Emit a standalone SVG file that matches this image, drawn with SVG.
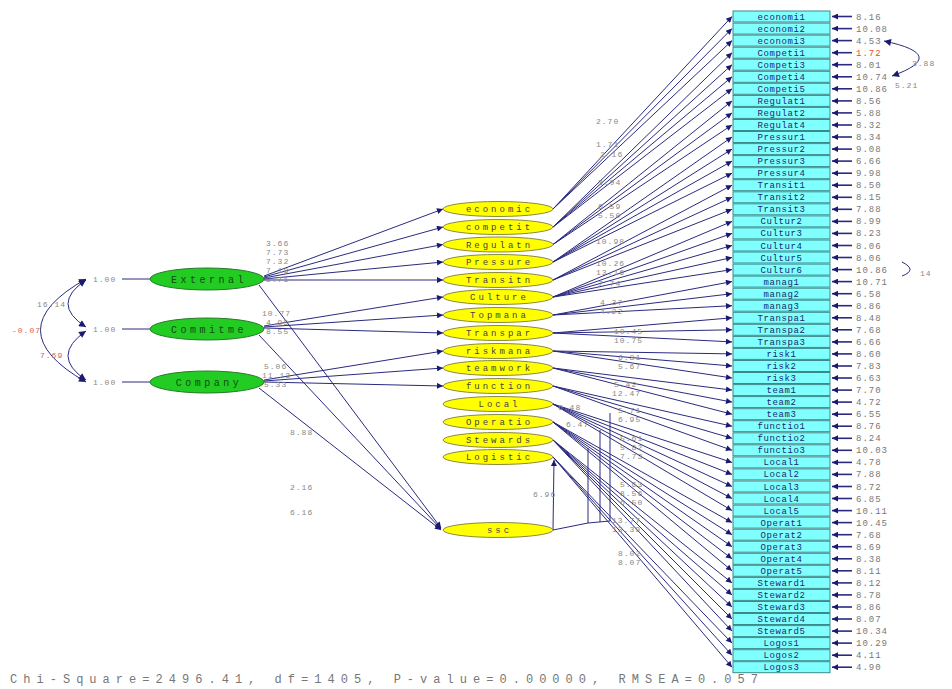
<svg xmlns="http://www.w3.org/2000/svg" width="952" height="689" viewBox="0 0 952 689">
<style>
.bx rect{fill:#80ffff;stroke:#3a8a8a;stroke-width:1}
.bx text{font-family:"Liberation Mono",monospace;font-size:9px;fill:#1a2a6a;text-anchor:middle;letter-spacing:0.6px}
.bx line{stroke:#2a2a80;stroke-width:1.6;marker-end:url(#ah)}
.bx .v{text-anchor:start;fill:#777;letter-spacing:1px}
.bx .r{fill:#e05030}
.ye ellipse{fill:#ffff00;stroke:#8a8a40;stroke-width:1}
.gr ellipse{fill:#22cc22;stroke:#2a7a2a;stroke-width:1}
.ye text{font-family:"Liberation Mono",monospace;font-size:9px;fill:#444;text-anchor:middle;letter-spacing:3px}
.gr text{font-family:"Liberation Mono",monospace;font-size:10px;fill:#134a13;text-anchor:middle;letter-spacing:3.5px}
.cn line,.cn path,.cn polyline{stroke:#2a2a80;stroke-width:1;fill:none}
.cn .a{marker-end:url(#ah)}
.lb{font-family:"Liberation Mono",monospace;font-size:8px;fill:#888;letter-spacing:1px}
.rd{fill:#e06040}
.thin{stroke:#bbb;stroke-width:1}
</style>
<defs>
<marker id="ah" viewBox="0 0 10 10" refX="10" refY="5" markerWidth="8" markerHeight="6" markerUnits="userSpaceOnUse" orient="auto"><path d="M0,0 L10,5 L0,10 z" fill="#1a1a70"/></marker>
<marker id="as" viewBox="0 0 10 10" refX="10" refY="5" markerWidth="9" markerHeight="7" markerUnits="userSpaceOnUse" orient="auto-start-reverse"><path d="M0,0 L10,5 L0,10 z" fill="#1a1a70"/></marker>
</defs>
<rect width="952" height="689" fill="#fff"/>

<g id="connectors" class="cn">
<line class="a" x1="264" y1="276" x2="443" y2="209"/>
<line class="a" x1="264" y1="277" x2="443" y2="227"/>
<line class="a" x1="264" y1="278" x2="443" y2="244.5"/>
<line class="a" x1="264" y1="279" x2="443" y2="262"/>
<line class="a" x1="264" y1="280" x2="443" y2="280"/>
<line class="a" x1="259" y1="285" x2="441" y2="528"/>
<line class="a" x1="264" y1="326" x2="443" y2="297"/>
<line class="a" x1="264" y1="327" x2="443" y2="315"/>
<line class="a" x1="264" y1="328" x2="443" y2="333"/>
<line class="a" x1="259" y1="335" x2="441" y2="529"/>
<line class="a" x1="264" y1="380" x2="443" y2="351"/>
<line class="a" x1="264" y1="381" x2="443" y2="368"/>
<line class="a" x1="264" y1="382" x2="443" y2="386"/>
<line class="a" x1="259" y1="388" x2="441" y2="530"/>
<line class="thin" x1="122" y1="279" x2="150" y2="279"/>
<line class="thin" x1="122" y1="329" x2="150" y2="329"/>
<line class="thin" x1="122" y1="382" x2="150" y2="382"/>
<path d="M86,280 Q50,304 86,327" marker-start="url(#as)" marker-end="url(#as)"/>
<path d="M86,331 Q50,356 86,380" marker-start="url(#as)" marker-end="url(#as)"/>
<path d="M86,279 Q-5,330 86,382" marker-start="url(#as)" marker-end="url(#as)"/>
<polyline points="553,530 588,523 610,521"/>
<line class="a" x1="553" y1="530" x2="554" y2="460"/>
<line x1="588" y1="523" x2="588" y2="448"/>
<line x1="600" y1="522" x2="600" y2="430"/>
<line x1="610" y1="521" x2="610" y2="413"/>
<line class="a" x1="553" y1="209" x2="732" y2="16.5"/>
<line class="a" x1="553" y1="209" x2="732" y2="28.6"/>
<line class="a" x1="553" y1="209" x2="732" y2="40.6"/>
<line class="a" x1="553" y1="227" x2="732" y2="52.7"/>
<line class="a" x1="553" y1="227" x2="732" y2="64.7"/>
<line class="a" x1="553" y1="227" x2="732" y2="76.8"/>
<line class="a" x1="553" y1="227" x2="732" y2="88.8"/>
<line class="a" x1="553" y1="244.5" x2="732" y2="100.9"/>
<line class="a" x1="553" y1="244.5" x2="732" y2="112.9"/>
<line class="a" x1="553" y1="244.5" x2="732" y2="125"/>
<line class="a" x1="553" y1="262" x2="732" y2="137"/>
<line class="a" x1="553" y1="262" x2="732" y2="149.1"/>
<line class="a" x1="553" y1="262" x2="732" y2="161.1"/>
<line class="a" x1="553" y1="262" x2="732" y2="173.2"/>
<line class="a" x1="553" y1="280" x2="732" y2="185.2"/>
<line class="a" x1="553" y1="280" x2="732" y2="197.3"/>
<line class="a" x1="553" y1="280" x2="732" y2="209.3"/>
<line class="a" x1="553" y1="297" x2="732" y2="221.4"/>
<line class="a" x1="553" y1="297" x2="732" y2="233.4"/>
<line class="a" x1="553" y1="297" x2="732" y2="245.5"/>
<line class="a" x1="553" y1="297" x2="732" y2="257.5"/>
<line class="a" x1="553" y1="297" x2="732" y2="269.6"/>
<line class="a" x1="553" y1="315" x2="732" y2="281.6"/>
<line class="a" x1="553" y1="315" x2="732" y2="293.7"/>
<line class="a" x1="553" y1="315" x2="732" y2="305.7"/>
<line class="a" x1="553" y1="333" x2="732" y2="317.8"/>
<line class="a" x1="553" y1="333" x2="732" y2="329.8"/>
<line class="a" x1="553" y1="333" x2="732" y2="341.9"/>
<line class="a" x1="553" y1="351" x2="732" y2="353.9"/>
<line class="a" x1="553" y1="351" x2="732" y2="366"/>
<line class="a" x1="553" y1="351" x2="732" y2="378"/>
<line class="a" x1="553" y1="368" x2="732" y2="390.1"/>
<line class="a" x1="553" y1="368" x2="732" y2="402.1"/>
<line class="a" x1="553" y1="368" x2="732" y2="414.2"/>
<line class="a" x1="553" y1="386" x2="732" y2="426.2"/>
<line class="a" x1="553" y1="386" x2="732" y2="438.3"/>
<line class="a" x1="553" y1="386" x2="732" y2="450.3"/>
<line class="a" x1="553" y1="404" x2="732" y2="462.4"/>
<line class="a" x1="553" y1="404" x2="732" y2="474.4"/>
<line class="a" x1="553" y1="404" x2="732" y2="486.5"/>
<line class="a" x1="553" y1="404" x2="732" y2="498.5"/>
<line class="a" x1="553" y1="404" x2="732" y2="510.6"/>
<line class="a" x1="553" y1="422" x2="732" y2="522.6"/>
<line class="a" x1="553" y1="422" x2="732" y2="534.7"/>
<line class="a" x1="553" y1="422" x2="732" y2="546.7"/>
<line class="a" x1="553" y1="422" x2="732" y2="558.8"/>
<line class="a" x1="553" y1="422" x2="732" y2="570.8"/>
<line class="a" x1="553" y1="440" x2="732" y2="582.9"/>
<line class="a" x1="553" y1="440" x2="732" y2="594.9"/>
<line class="a" x1="553" y1="440" x2="732" y2="607"/>
<line class="a" x1="553" y1="440" x2="732" y2="619"/>
<line class="a" x1="553" y1="440" x2="732" y2="631.1"/>
<line class="a" x1="553" y1="457" x2="732" y2="643.1"/>
<line class="a" x1="553" y1="457" x2="732" y2="655.2"/>
<line class="a" x1="553" y1="457" x2="732" y2="667.2"/>
<path d="M884,41 Q950,55 892,76" marker-start="url(#as)" marker-end="url(#as)"/>
<path d="M902,262 Q918,270 902,276"/>
</g>

<g id="path-labels" class="lb">
<text x="266" y="246">3.66</text>
<text x="266" y="255">7.73</text>
<text x="266" y="264">7.32</text>
<text x="266" y="273">7.18</text>
<text x="266" y="282">8.71</text>
<text x="262" y="316">10.77</text>
<text x="266" y="325">4.95</text>
<text x="266" y="334">8.55</text>
<text x="264" y="369">5.06</text>
<text x="262" y="378">11.13</text>
<text x="264" y="387">5.33</text>
<text x="290" y="435">8.88</text>
<text x="290" y="490">2.16</text>
<text x="290" y="515">6.16</text>
<text x="37" y="307">16.14</text>
<text class="rd" x="12" y="333">-0.07</text>
<text class="rd" x="40" y="358">7.69</text>
<text x="93" y="282">1.00</text>
<text x="93" y="332">1.00</text>
<text x="93" y="385">1.00</text>
<text x="596" y="124">2.70</text>
<text x="596" y="147">1.71</text>
<text x="600" y="157">2.16</text>
<text x="598" y="185">3.04</text>
<text x="598" y="209">6.59</text>
<text x="598" y="218">5.50</text>
<text x="596" y="244">10.98</text>
<text x="596" y="266">10.26</text>
<text x="596" y="275">13.16</text>
<text x="598" y="286">7.74</text>
<text x="600" y="305">4.37</text>
<text x="600" y="314">4.22</text>
<text x="614" y="334">10.45</text>
<text x="614" y="343">10.75</text>
<text x="618" y="360">6.81</text>
<text x="618" y="369">5.67</text>
<text x="614" y="387">5.42</text>
<text x="612" y="396">12.47</text>
<text x="618" y="413">5.71</text>
<text x="618" y="422">6.95</text>
<text x="558" y="410">6.48</text>
<text x="566" y="427">6.47</text>
<text x="620" y="441">5.61</text>
<text x="620" y="450">5.82</text>
<text x="620" y="459">7.73</text>
<text x="620" y="487">5.63</text>
<text x="620" y="496">8.56</text>
<text x="620" y="505">6.50</text>
<text x="612" y="523">13.77</text>
<text x="612" y="532">13.39</text>
<text x="618" y="556">8.02</text>
<text x="618" y="565">8.07</text>
<text x="533" y="497">6.96</text>
<text x="912" y="66">3.88</text>
<text x="895" y="88">5.21</text>
<text x="920" y="276">14</text>
</g>

<g id="External" class="gr"><ellipse cx="207" cy="279" rx="57" ry="11"/><text x="209" y="282.5">External</text></g>
<g id="Commitme" class="gr"><ellipse cx="207" cy="329" rx="57" ry="11"/><text x="209" y="332.5">Commitme</text></g>
<g id="Company" class="gr"><ellipse cx="207" cy="382" rx="57" ry="11"/><text x="209" y="385.5">Company</text></g>

<g id="economic" class="ye"><ellipse cx="498" cy="209" rx="55" ry="7.5"/><text x="499.5" y="212">economic</text></g>
<g id="competit" class="ye"><ellipse cx="498" cy="227" rx="55" ry="7.5"/><text x="499.5" y="230">competit</text></g>
<g id="Regulatn" class="ye"><ellipse cx="498" cy="244.5" rx="55" ry="7.5"/><text x="499.5" y="247.5">Regulatn</text></g>
<g id="Pressure" class="ye"><ellipse cx="498" cy="262" rx="55" ry="7.5"/><text x="499.5" y="265">Pressure</text></g>
<g id="Transitn" class="ye"><ellipse cx="498" cy="280" rx="55" ry="7.5"/><text x="499.5" y="283">Transitn</text></g>
<g id="Culture" class="ye"><ellipse cx="498" cy="297" rx="55" ry="7.5"/><text x="499.5" y="300">Culture</text></g>
<g id="Topmana" class="ye"><ellipse cx="498" cy="315" rx="55" ry="7.5"/><text x="499.5" y="318">Topmana</text></g>
<g id="Transpar" class="ye"><ellipse cx="498" cy="333" rx="55" ry="7.5"/><text x="499.5" y="336">Transpar</text></g>
<g id="riskmana" class="ye"><ellipse cx="498" cy="351" rx="55" ry="7.5"/><text x="499.5" y="354">riskmana</text></g>
<g id="teamwork" class="ye"><ellipse cx="498" cy="368" rx="55" ry="7.5"/><text x="499.5" y="371">teamwork</text></g>
<g id="function" class="ye"><ellipse cx="498" cy="386" rx="55" ry="7.5"/><text x="499.5" y="389">function</text></g>
<g id="Local" class="ye"><ellipse cx="498" cy="404" rx="55" ry="7.5"/><text x="499.5" y="407">Local</text></g>
<g id="Operatio" class="ye"><ellipse cx="498" cy="422" rx="55" ry="7.5"/><text x="499.5" y="425">Operatio</text></g>
<g id="Stewards" class="ye"><ellipse cx="498" cy="440" rx="55" ry="7.5"/><text x="499.5" y="443">Stewards</text></g>
<g id="Logistic" class="ye"><ellipse cx="498" cy="457" rx="55" ry="7.5"/><text x="499.5" y="460">Logistic</text></g>
<g id="ssc" class="ye"><ellipse cx="498" cy="530" rx="55" ry="7.5"/><text x="499.5" y="533">ssc</text></g>

<g class="bx">
<g id="economi1" transform="translate(0,16.5)"><rect x="733" y="-5.5" width="97" height="11"/><text x="781.5" y="3">economi1</text><line x1="852" y1="0" x2="832" y2="0"/><text class="v" x="856" y="3">8.16</text></g>
<g id="economi2" transform="translate(0,28.6)"><rect x="733" y="-5.5" width="97" height="11"/><text x="781.5" y="3">economi2</text><line x1="852" y1="0" x2="832" y2="0"/><text class="v" x="856" y="3">10.08</text></g>
<g id="economi3" transform="translate(0,40.6)"><rect x="733" y="-5.5" width="97" height="11"/><text x="781.5" y="3">economi3</text><line x1="852" y1="0" x2="832" y2="0"/><text class="v" x="856" y="3">4.53</text></g>
<g id="Competi1" transform="translate(0,52.7)"><rect x="733" y="-5.5" width="97" height="11"/><text x="781.5" y="3">Competi1</text><line x1="852" y1="0" x2="832" y2="0"/><text class="v r" x="856" y="3">1.72</text></g>
<g id="Competi3" transform="translate(0,64.7)"><rect x="733" y="-5.5" width="97" height="11"/><text x="781.5" y="3">Competi3</text><line x1="852" y1="0" x2="832" y2="0"/><text class="v" x="856" y="3">8.01</text></g>
<g id="Competi4" transform="translate(0,76.8)"><rect x="733" y="-5.5" width="97" height="11"/><text x="781.5" y="3">Competi4</text><line x1="852" y1="0" x2="832" y2="0"/><text class="v" x="856" y="3">10.74</text></g>
<g id="Competi5" transform="translate(0,88.8)"><rect x="733" y="-5.5" width="97" height="11"/><text x="781.5" y="3">Competi5</text><line x1="852" y1="0" x2="832" y2="0"/><text class="v" x="856" y="3">10.86</text></g>
<g id="Regulat1" transform="translate(0,100.9)"><rect x="733" y="-5.5" width="97" height="11"/><text x="781.5" y="3">Regulat1</text><line x1="852" y1="0" x2="832" y2="0"/><text class="v" x="856" y="3">8.56</text></g>
<g id="Regulat2" transform="translate(0,112.9)"><rect x="733" y="-5.5" width="97" height="11"/><text x="781.5" y="3">Regulat2</text><line x1="852" y1="0" x2="832" y2="0"/><text class="v" x="856" y="3">5.88</text></g>
<g id="Regulat4" transform="translate(0,125)"><rect x="733" y="-5.5" width="97" height="11"/><text x="781.5" y="3">Regulat4</text><line x1="852" y1="0" x2="832" y2="0"/><text class="v" x="856" y="3">8.32</text></g>
<g id="Pressur1" transform="translate(0,137)"><rect x="733" y="-5.5" width="97" height="11"/><text x="781.5" y="3">Pressur1</text><line x1="852" y1="0" x2="832" y2="0"/><text class="v" x="856" y="3">8.34</text></g>
<g id="Pressur2" transform="translate(0,149.1)"><rect x="733" y="-5.5" width="97" height="11"/><text x="781.5" y="3">Pressur2</text><line x1="852" y1="0" x2="832" y2="0"/><text class="v" x="856" y="3">9.08</text></g>
<g id="Pressur3" transform="translate(0,161.1)"><rect x="733" y="-5.5" width="97" height="11"/><text x="781.5" y="3">Pressur3</text><line x1="852" y1="0" x2="832" y2="0"/><text class="v" x="856" y="3">6.66</text></g>
<g id="Pressur4" transform="translate(0,173.2)"><rect x="733" y="-5.5" width="97" height="11"/><text x="781.5" y="3">Pressur4</text><line x1="852" y1="0" x2="832" y2="0"/><text class="v" x="856" y="3">9.98</text></g>
<g id="Transit1" transform="translate(0,185.2)"><rect x="733" y="-5.5" width="97" height="11"/><text x="781.5" y="3">Transit1</text><line x1="852" y1="0" x2="832" y2="0"/><text class="v" x="856" y="3">8.50</text></g>
<g id="Transit2" transform="translate(0,197.3)"><rect x="733" y="-5.5" width="97" height="11"/><text x="781.5" y="3">Transit2</text><line x1="852" y1="0" x2="832" y2="0"/><text class="v" x="856" y="3">8.15</text></g>
<g id="Transit3" transform="translate(0,209.3)"><rect x="733" y="-5.5" width="97" height="11"/><text x="781.5" y="3">Transit3</text><line x1="852" y1="0" x2="832" y2="0"/><text class="v" x="856" y="3">7.88</text></g>
<g id="Cultur2" transform="translate(0,221.4)"><rect x="733" y="-5.5" width="97" height="11"/><text x="781.5" y="3">Cultur2</text><line x1="852" y1="0" x2="832" y2="0"/><text class="v" x="856" y="3">8.99</text></g>
<g id="Cultur3" transform="translate(0,233.4)"><rect x="733" y="-5.5" width="97" height="11"/><text x="781.5" y="3">Cultur3</text><line x1="852" y1="0" x2="832" y2="0"/><text class="v" x="856" y="3">8.23</text></g>
<g id="Cultur4" transform="translate(0,245.5)"><rect x="733" y="-5.5" width="97" height="11"/><text x="781.5" y="3">Cultur4</text><line x1="852" y1="0" x2="832" y2="0"/><text class="v" x="856" y="3">8.06</text></g>
<g id="Cultur5" transform="translate(0,257.5)"><rect x="733" y="-5.5" width="97" height="11"/><text x="781.5" y="3">Cultur5</text><line x1="852" y1="0" x2="832" y2="0"/><text class="v" x="856" y="3">8.06</text></g>
<g id="Cultur6" transform="translate(0,269.6)"><rect x="733" y="-5.5" width="97" height="11"/><text x="781.5" y="3">Cultur6</text><line x1="852" y1="0" x2="832" y2="0"/><text class="v" x="856" y="3">10.86</text></g>
<g id="manag1" transform="translate(0,281.6)"><rect x="733" y="-5.5" width="97" height="11"/><text x="781.5" y="3">manag1</text><line x1="852" y1="0" x2="832" y2="0"/><text class="v" x="856" y="3">10.71</text></g>
<g id="manag2" transform="translate(0,293.7)"><rect x="733" y="-5.5" width="97" height="11"/><text x="781.5" y="3">manag2</text><line x1="852" y1="0" x2="832" y2="0"/><text class="v" x="856" y="3">6.58</text></g>
<g id="manag3" transform="translate(0,305.7)"><rect x="733" y="-5.5" width="97" height="11"/><text x="781.5" y="3">manag3</text><line x1="852" y1="0" x2="832" y2="0"/><text class="v" x="856" y="3">8.86</text></g>
<g id="Transpa1" transform="translate(0,317.8)"><rect x="733" y="-5.5" width="97" height="11"/><text x="781.5" y="3">Transpa1</text><line x1="852" y1="0" x2="832" y2="0"/><text class="v" x="856" y="3">8.48</text></g>
<g id="Transpa2" transform="translate(0,329.8)"><rect x="733" y="-5.5" width="97" height="11"/><text x="781.5" y="3">Transpa2</text><line x1="852" y1="0" x2="832" y2="0"/><text class="v" x="856" y="3">7.68</text></g>
<g id="Transpa3" transform="translate(0,341.9)"><rect x="733" y="-5.5" width="97" height="11"/><text x="781.5" y="3">Transpa3</text><line x1="852" y1="0" x2="832" y2="0"/><text class="v" x="856" y="3">6.66</text></g>
<g id="risk1" transform="translate(0,353.9)"><rect x="733" y="-5.5" width="97" height="11"/><text x="781.5" y="3">risk1</text><line x1="852" y1="0" x2="832" y2="0"/><text class="v" x="856" y="3">8.60</text></g>
<g id="risk2" transform="translate(0,366)"><rect x="733" y="-5.5" width="97" height="11"/><text x="781.5" y="3">risk2</text><line x1="852" y1="0" x2="832" y2="0"/><text class="v" x="856" y="3">7.83</text></g>
<g id="risk3" transform="translate(0,378)"><rect x="733" y="-5.5" width="97" height="11"/><text x="781.5" y="3">risk3</text><line x1="852" y1="0" x2="832" y2="0"/><text class="v" x="856" y="3">6.63</text></g>
<g id="team1" transform="translate(0,390.1)"><rect x="733" y="-5.5" width="97" height="11"/><text x="781.5" y="3">team1</text><line x1="852" y1="0" x2="832" y2="0"/><text class="v" x="856" y="3">7.70</text></g>
<g id="team2" transform="translate(0,402.1)"><rect x="733" y="-5.5" width="97" height="11"/><text x="781.5" y="3">team2</text><line x1="852" y1="0" x2="832" y2="0"/><text class="v" x="856" y="3">4.72</text></g>
<g id="team3" transform="translate(0,414.2)"><rect x="733" y="-5.5" width="97" height="11"/><text x="781.5" y="3">team3</text><line x1="852" y1="0" x2="832" y2="0"/><text class="v" x="856" y="3">6.55</text></g>
<g id="functio1" transform="translate(0,426.2)"><rect x="733" y="-5.5" width="97" height="11"/><text x="781.5" y="3">functio1</text><line x1="852" y1="0" x2="832" y2="0"/><text class="v" x="856" y="3">8.76</text></g>
<g id="functio2" transform="translate(0,438.3)"><rect x="733" y="-5.5" width="97" height="11"/><text x="781.5" y="3">functio2</text><line x1="852" y1="0" x2="832" y2="0"/><text class="v" x="856" y="3">8.24</text></g>
<g id="functio3" transform="translate(0,450.3)"><rect x="733" y="-5.5" width="97" height="11"/><text x="781.5" y="3">functio3</text><line x1="852" y1="0" x2="832" y2="0"/><text class="v" x="856" y="3">10.03</text></g>
<g id="Local1" transform="translate(0,462.4)"><rect x="733" y="-5.5" width="97" height="11"/><text x="781.5" y="3">Local1</text><line x1="852" y1="0" x2="832" y2="0"/><text class="v" x="856" y="3">4.78</text></g>
<g id="Local2" transform="translate(0,474.4)"><rect x="733" y="-5.5" width="97" height="11"/><text x="781.5" y="3">Local2</text><line x1="852" y1="0" x2="832" y2="0"/><text class="v" x="856" y="3">7.88</text></g>
<g id="Local3" transform="translate(0,486.5)"><rect x="733" y="-5.5" width="97" height="11"/><text x="781.5" y="3">Local3</text><line x1="852" y1="0" x2="832" y2="0"/><text class="v" x="856" y="3">8.72</text></g>
<g id="Local4" transform="translate(0,498.5)"><rect x="733" y="-5.5" width="97" height="11"/><text x="781.5" y="3">Local4</text><line x1="852" y1="0" x2="832" y2="0"/><text class="v" x="856" y="3">6.85</text></g>
<g id="Local5" transform="translate(0,510.6)"><rect x="733" y="-5.5" width="97" height="11"/><text x="781.5" y="3">Local5</text><line x1="852" y1="0" x2="832" y2="0"/><text class="v" x="856" y="3">10.11</text></g>
<g id="Operat1" transform="translate(0,522.6)"><rect x="733" y="-5.5" width="97" height="11"/><text x="781.5" y="3">Operat1</text><line x1="852" y1="0" x2="832" y2="0"/><text class="v" x="856" y="3">10.45</text></g>
<g id="Operat2" transform="translate(0,534.7)"><rect x="733" y="-5.5" width="97" height="11"/><text x="781.5" y="3">Operat2</text><line x1="852" y1="0" x2="832" y2="0"/><text class="v" x="856" y="3">7.68</text></g>
<g id="Operat3" transform="translate(0,546.7)"><rect x="733" y="-5.5" width="97" height="11"/><text x="781.5" y="3">Operat3</text><line x1="852" y1="0" x2="832" y2="0"/><text class="v" x="856" y="3">8.69</text></g>
<g id="Operat4" transform="translate(0,558.8)"><rect x="733" y="-5.5" width="97" height="11"/><text x="781.5" y="3">Operat4</text><line x1="852" y1="0" x2="832" y2="0"/><text class="v" x="856" y="3">8.38</text></g>
<g id="Operat5" transform="translate(0,570.8)"><rect x="733" y="-5.5" width="97" height="11"/><text x="781.5" y="3">Operat5</text><line x1="852" y1="0" x2="832" y2="0"/><text class="v" x="856" y="3">8.11</text></g>
<g id="Steward1" transform="translate(0,582.9)"><rect x="733" y="-5.5" width="97" height="11"/><text x="781.5" y="3">Steward1</text><line x1="852" y1="0" x2="832" y2="0"/><text class="v" x="856" y="3">8.12</text></g>
<g id="Steward2" transform="translate(0,594.9)"><rect x="733" y="-5.5" width="97" height="11"/><text x="781.5" y="3">Steward2</text><line x1="852" y1="0" x2="832" y2="0"/><text class="v" x="856" y="3">8.78</text></g>
<g id="Steward3" transform="translate(0,607)"><rect x="733" y="-5.5" width="97" height="11"/><text x="781.5" y="3">Steward3</text><line x1="852" y1="0" x2="832" y2="0"/><text class="v" x="856" y="3">8.86</text></g>
<g id="Steward4" transform="translate(0,619)"><rect x="733" y="-5.5" width="97" height="11"/><text x="781.5" y="3">Steward4</text><line x1="852" y1="0" x2="832" y2="0"/><text class="v" x="856" y="3">8.07</text></g>
<g id="Steward5" transform="translate(0,631.1)"><rect x="733" y="-5.5" width="97" height="11"/><text x="781.5" y="3">Steward5</text><line x1="852" y1="0" x2="832" y2="0"/><text class="v" x="856" y="3">10.34</text></g>
<g id="Logos1" transform="translate(0,643.1)"><rect x="733" y="-5.5" width="97" height="11"/><text x="781.5" y="3">Logos1</text><line x1="852" y1="0" x2="832" y2="0"/><text class="v" x="856" y="3">10.29</text></g>
<g id="Logos2" transform="translate(0,655.2)"><rect x="733" y="-5.5" width="97" height="11"/><text x="781.5" y="3">Logos2</text><line x1="852" y1="0" x2="832" y2="0"/><text class="v" x="856" y="3">4.11</text></g>
<g id="Logos3" transform="translate(0,667.2)"><rect x="733" y="-5.5" width="97" height="11"/><text x="781.5" y="3">Logos3</text><line x1="852" y1="0" x2="832" y2="0"/><text class="v" x="856" y="3">4.90</text></g>
</g>

<text x="10" y="683" font-family="Liberation Mono, monospace" font-size="12" fill="#777" textLength="748" lengthAdjust="spacing">Chi-Square=2496.41,  df=1405,  P-value=0.00000,  RMSEA=0.057</text>
</svg>
